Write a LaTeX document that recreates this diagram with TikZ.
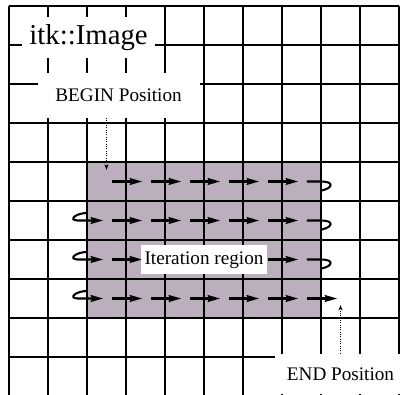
\documentclass[tikz,border=0pt]{standalone}
\usepackage{fontspec}
\setmainfont{Liberation Serif}
\usepackage{tikz}
\usetikzlibrary{arrows.meta,calc}
\definecolor{itkmauve}{HTML}{BBAFBE}

\begin{document}
\begin{tikzpicture}[
    gridline/.style={black, line width=1pt},
    stepline/.style={black, line width=1.5pt, -{Stealth[length=9pt,width=5pt,inset=1pt]},
                     shorten <=4pt, shorten >=2.5pt},
    wrapout/.style={black, line width=1.5pt, shorten <=4pt},
    wrapin/.style={black, line width=1.5pt, -{Stealth[length=9pt,width=5pt,inset=1pt]},
                   shorten >=2.5pt},
    pointer/.style={black, densely dotted, line width=0.7pt, -{Stealth[length=4pt,width=3pt]}},
    tagbox/.style={fill=white, font=\fontsize{14}{16}\selectfont}
  ]
  \useasboundingbox (-0.231,0.026) rectangle (10.205,10.154);

  \fill[itkmauve] (2,2) rectangle (8,6);
  \foreach \i in {0,...,10} \draw[gridline] (\i,0) -- (\i,10);
  \foreach \j in {1,...,10} \draw[gridline] (0,\j) -- (10,\j);

  % pixel centres of the region
  \foreach \c in {2,...,8}
    \foreach \r in {2,...,5}
      \coordinate (p-\c-\r) at (\c+0.5,\r+0.5);

  \foreach \r in {5,4,3,2}
    \foreach \c in {2,...,6} {
      \pgfmathtruncatemacro{\nextc}{\c+1}
      \draw[stepline] (p-\c-\r) -- (p-\nextc-\r);
    }
  \draw[stepline] (p-7-2) -- (p-8-2);

  % line wrap at the region border
  \foreach \r in {5,4,3} {
    \draw[wrapout] (p-7-\r) -- (8.0,\r+0.5)
      .. controls (8.35,\r+0.5) and (8.3,\r+0.33) .. (8.02,\r+0.27);
  }
  \foreach \r in {4,3,2} {
    \draw[wrapin] (2.0,\r+0.69) .. controls (1.75,\r+0.7) and (1.5,\r+0.52) .. (1.75,\r+0.5)
      -- (p-2-\r);
  }

  \node[tagbox, font=\fontsize{21}{24}\selectfont, inner sep=5.5pt] (title) at (2.04,9.19) {itk::Image};
  \node[tagbox, inner xsep=13pt, inner ysep=11.5pt] (begin) at (2.81,7.705) {BEGIN Position};
  \node[tagbox, inner xsep=2.7pt, inner ysep=4.5pt] (region) at (5.0,3.49) {Iteration region};
  \node[tagbox, inner xsep=8.5pt, inner ysep=9.8pt] (end) at (8.5,0.57) {END Position};

  \coordinate (start) at (2.5,5.8);
  \coordinate (finish) at (8.5,2.33);
  \draw[pointer] (begin.south -| start) -- (start);
  \draw[pointer] (end.north -| finish) -- (finish);
\end{tikzpicture}
\end{document}
